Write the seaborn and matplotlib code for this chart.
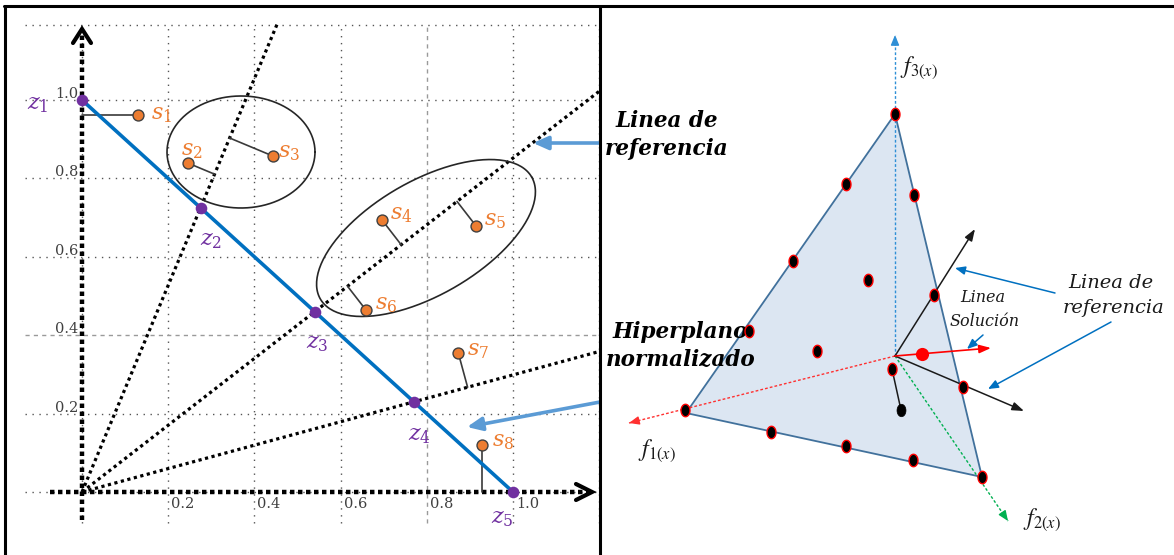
import numpy as np
import pandas as pd
import matplotlib
matplotlib.use("Agg")
import matplotlib.pyplot as plt
import seaborn as sns
from matplotlib.lines import Line2D
from matplotlib.path import Path

sns.set_style("white")
plt.rcParams["mathtext.fontset"] = "stix"
plt.rcParams["font.family"] = ["DejaVu Serif"]

# ---------------- data: left panel ----------------
z_labels = ["$z_1$", "$z_2$", "$z_3$", "$z_4$", "$z_5$"]
z_x = [0.0, 0.275, 0.54, 0.77, 1.0]
z_y = [1.0, 0.725, 0.46, 0.23, 0.0]

s_labels = ["$s_1$", "$s_2$", "$s_3$", "$s_4$", "$s_5$", "$s_6$", "$s_7$", "$s_8$"]
s_x = [0.13, 0.246, 0.443, 0.696, 0.914, 0.659, 0.873, 0.929]
s_y = [0.962, 0.839, 0.857, 0.694, 0.679, 0.464, 0.355, 0.12]
# reference line associated with each s: 'y' axis, z-index of reference line, 'x' axis
s_ref = ["y", 1, 1, 2, 2, 2, 3, "x"]

tick_vals = [0.2, 0.4, 0.6, 0.8, 1.0]
tick_labels = ["0.2", "0.4", "0.6", "0.8", "1.0"]
grid_vals = [0.0, 0.2, 0.4, 0.6, 0.8, 1.0, 1.2]

# ---------------- data: right panel (diagram coordinates) ----------------
tri_x = [895, 686, 982]
tri_y = [114, 413, 477]
ref_pts_x = [895, 846, 793, 749, 685, 914, 934, 963, 982, 771, 846, 913, 868, 817, 892]
ref_pts_y = [114, 184, 261, 331, 410, 195, 295, 387, 477, 432, 446, 460, 280, 351, 369]
sol_x, sol_y = [922], [354]
ind_x, ind_y = [901], [410]
center = (895, 356)
f_axes_tip = {"f3": (895, 35), "f1": (629, 423), "f2": (1008, 521)}
ref_arrow_tips = [(975, 229), (1024, 411)]
sol_arrow_tip = (991, 348)

# ---------------- colours ----------------
PURPLE = "#7030A0"
ORANGE = "#ED7D31"
BLUE = "#0070C0"
LBLUE = "#5B9BD5"

W, H = 1174, 555
fig = plt.figure(figsize=(W / 100, H / 100), dpi=100)

# ================= LEFT PANEL =================
SX, SY, OX, OY = 431.0, 392.0, 82.0, 492.0
def px(xp, yp):
    return ((xp - OX) / SX, (OY - yp) / SY)

ax1 = fig.add_axes([0, 0, 600 / W, 1])
ax1.set_xlim(px(0, 0)[0], px(600, 0)[0])
ax1.set_ylim(px(0, 555)[1], px(0, 0)[1])
ax1.set_axis_off()

# grid
gx0, gx1 = px(25, 0)[0], px(597, 0)[0]
gy0, gy1 = px(0, 523)[1], px(0, 25)[1]
for g in grid_vals:
    ls = (0, (3, 3)) if abs(g - 0.8) < 1e-9 else (0, (1, 4))
    col = "#9a9a9a" if abs(g - 0.8) < 1e-9 else "#555555"
    ax1.plot([g, g], [gy0, min(gy1, 1.191)], color=col, lw=1.0, ls=ls, zorder=1)
for g in grid_vals:
    ls = (0, (3, 3)) if abs(g - 0.4) < 1e-9 else (0, (1, 4))
    col = "#9a9a9a" if abs(g - 0.4) < 1e-9 else "#555555"
    yy = min(g, 1.191)
    ax1.plot([gx0, gx1], [yy, yy], color=col, lw=1.0, ls=ls, zorder=1)

# thick dotted axes
ax1.plot([0, 0], [px(0, 520)[1], px(0, 33)[1]], color="black", lw=3.2, ls=(0, (1, 0.8)), zorder=3)
ax1.plot([px(50, 0)[0], px(588, 0)[0]], [0, 0], color="black", lw=3.2, ls=(0, (1, 0.8)), zorder=3)
# chevrons
cx = [px(73, 43), px(82, 29), px(91, 43)]
ax1.plot([p[0] for p in cx], [p[1] for p in cx], color="black", lw=3, solid_joinstyle="miter", zorder=4)
cy = [px(576, 484), px(592, 492), px(576, 500)]
ax1.plot([p[0] for p in cy], [p[1] for p in cy], color="black", lw=3, solid_joinstyle="miter", zorder=4)

# reference lines through origin and z2, z3, z4
xmax, ymax = 1.2, 1.196
ref_dirs = {}
for k in [1, 2, 3]:
    dx, dy = z_x[k], z_y[k]
    t = min(xmax / dx, ymax / dy)
    ref_dirs[k] = (dx, dy)
    ax1.plot([0, dx * t], [0, dy * t], color="black", lw=2.3, ls=(0, (1, 1.1)), zorder=3)
ref_dirs["y"] = (0.0, 1.0)
ref_dirs["x"] = (1.0, 0.0)

# Pareto (normalized hyperplane) line
df_z = pd.DataFrame({"x": z_x, "y": z_y})
sns.lineplot(data=df_z, x="x", y="y", sort=False, color=BLUE, lw=2.6, ax=ax1, zorder=5)

# perpendiculars from s points to their reference line
for x, y, r in zip(s_x, s_y, s_ref):
    dx, dy = ref_dirs[r]
    p = np.array([x * SX, y * SY])
    d = np.array([dx * SX, dy * SY])
    t = p.dot(d) / d.dot(d)
    fx, fy = t * dx, t * dy
    ax1.plot([x, fx], [y, fy], color="#3a3a3a", lw=1.2, zorder=4)

# ellipses (drawn in pixel-shaped units)
def ellipse(cxp, cyp, a, b, ang):
    th = np.linspace(0, 2 * np.pi, 200)
    r = np.deg2rad(ang)
    ex = a * np.cos(th) * np.cos(r) - b * np.sin(th) * np.sin(r)
    ey = a * np.cos(th) * np.sin(r) + b * np.sin(th) * np.cos(r)
    cxd, cyd = px(cxp, cyp)
    ax1.plot(cxd + ex / SX, cyd + ey / SY, color="#262626", lw=1.2, zorder=4)
ellipse(241, 152, 74, 56, 0)
ellipse(426, 238, 122, 57, 30)

# points
df_s = pd.DataFrame({"x": s_x, "y": s_y})
sns.scatterplot(data=df_s, x="x", y="y", color=ORANGE, edgecolor="#404040", linewidth=1.0,
                s=62, ax=ax1, zorder=6, legend=False)
sns.scatterplot(data=df_z, x="x", y="y", color=PURPLE, edgecolor=PURPLE, linewidth=0,
                s=70, ax=ax1, zorder=7, legend=False)

# labels
z_off = [(-44, -4), (11, -32), (3, -31), (6, -33), (-11, -26)]
for lab, x, y, (ox, oy) in zip(z_labels, z_x, z_y, z_off):
    ax1.annotate(lab, (x, y), xytext=(ox, oy), textcoords="offset pixels", ha="center", va="center",
                 color=PURPLE, fontsize=16, math_fontfamily="dejavuserif", zorder=8)
s_off = [(23, 1), (4, 13), (16, 4), (19, 6), (19, 6), (20, 6), (20, 3), (21, 4)]
for lab, x, y, (ox, oy) in zip(s_labels, s_x, s_y, s_off):
    ax1.annotate(lab, (x, y), xytext=(ox, oy), textcoords="offset pixels", ha="center", va="center",
                 color=ORANGE, fontsize=16, math_fontfamily="dejavuserif", zorder=8)

# tick labels
for v, lab in zip(tick_vals, tick_labels):
    ax1.annotate(lab, (v, 0), xytext=(3, -12), textcoords="offset pixels", ha="left", va="center",
                 color="#404040", fontsize=10.5)
    ax1.annotate(lab, (0, v), xytext=(-4, 6), textcoords="offset pixels", ha="right", va="center",
                 color="#404040", fontsize=10.5)

# blue pointer arrows (towards the right-panel captions)
for (xs, ys), (xe, ye) in [((600, 143), (533, 143)), ((600, 402), (467, 427))]:
    ax1.annotate("", xy=px(xe, ye), xytext=px(xs, ys),
                 arrowprops=dict(arrowstyle="-|>,head_length=0.9,head_width=0.4", color=LBLUE,
                                 lw=2.6, shrinkA=0, shrinkB=0), zorder=6)

# ================= RIGHT PANEL =================
ax2 = fig.add_axes([600 / W, 0, (W - 600) / W, 1])
ax2.set_xlim(600, W)
ax2.set_ylim(H, 0)
ax2.set_axis_off()

ax2.fill(tri_x, tri_y, facecolor="#DCE6F2", edgecolor="#41719C", lw=1.3, zorder=1)

f_cols = {"f3": "#2E8FD6", "f1": "#FF3030", "f2": "#00B050"}
for key, (tx, ty) in f_axes_tip.items():
    col = f_cols[key]
    ax2.plot([center[0], tx], [center[1], ty], color=col, lw=1.0, ls=(0, (2, 1.5)), zorder=2)
    vx, vy = tx - center[0], ty - center[1]
    n = np.hypot(vx, vy)
    ax2.annotate("", xy=(tx, ty), xytext=(tx - vx / n * 10, ty - vy / n * 10),
                 arrowprops=dict(arrowstyle="-|>,head_length=0.6,head_width=0.25", color=col,
                                 lw=1.0, shrinkA=0, shrinkB=0), zorder=3)

for tip in ref_arrow_tips:
    ax2.annotate("", xy=tip, xytext=center,
                 arrowprops=dict(arrowstyle="-|>,head_length=0.7,head_width=0.25", color="#1a1a1a",
                                 lw=1.1, shrinkA=0, shrinkB=0), zorder=3)
ax2.annotate("", xy=sol_arrow_tip, xytext=center,
             arrowprops=dict(arrowstyle="-|>,head_length=0.7,head_width=0.25", color="#FF0000",
                             lw=1.2, shrinkA=0, shrinkB=0), zorder=3)
ax2.plot([ref_pts_x[-1], ind_x[0]], [ref_pts_y[-1], ind_y[0]], color="#1a1a1a", lw=1.1, zorder=3)

th = np.linspace(0, 2 * np.pi, 40)
ell = Path(np.column_stack([0.72 * np.cos(th), np.sin(th)]), closed=True)
df_r = pd.DataFrame({"x": ref_pts_x, "y": ref_pts_y})
sns.scatterplot(data=df_r, x="x", y="y", marker=ell, color="black", edgecolor="#FF0000",
                linewidth=1.0, s=80, ax=ax2, zorder=5, legend=False)
sns.scatterplot(x=ind_x, y=ind_y, marker=ell, color="black", edgecolor="black",
                linewidth=0.5, s=80, ax=ax2, zorder=5, legend=False)
sns.scatterplot(x=sol_x, y=sol_y, marker="o", color="#FF0000", edgecolor="#FF0000",
                linewidth=0, s=90, ax=ax2, zorder=5, legend=False)
ax2.set_xlim(600, W)
ax2.set_ylim(H, 0)

# thin blue annotation arrows
for (xs, ys), (xe, ye) in [((1055, 293), (955, 268)), ((1111, 322), (988, 389)), ((983, 335), (967, 349))]:
    ax2.annotate("", xy=(xe, ye), xytext=(xs, ys),
                 arrowprops=dict(arrowstyle="-|>,head_length=0.6,head_width=0.25", color=BLUE,
                                 lw=1.1, shrinkA=0, shrinkB=0), zorder=4)

# axis labels
ax2.text(919, 68, "$f_{3(x)}$", fontsize=17, ha="center", va="center", color="#1a1a1a")
ax2.text(657, 451, "$f_{1(x)}$", fontsize=17, ha="center", va="center", color="#1a1a1a")
ax2.text(1042, 520, "$f_{2(x)}$", fontsize=17, ha="center", va="center", color="#1a1a1a")

# captions
bi = dict(fontsize=15.5, fontweight="bold", fontstyle="italic", ha="center", va="center", color="black")
ax2.text(667, 121, "Linea de", **bi)
ax2.text(667, 149, "referencia", **bi)
ax2.text(680, 332, "Hiperplano", **bi)
ax2.text(681, 359, "normalizado", **bi)
it = dict(fontsize=14, fontstyle="italic", ha="center", va="center", color="#1a1a1a")
ax2.text(1111, 283, "Linea de", **it)
ax2.text(1113, 308, "referencia", **it)
sm = dict(fontsize=11.5, fontstyle="italic", ha="center", va="center", color="#1a1a1a")
ax2.text(983, 298, "Linea", **sm)
ax2.text(985, 321, "Solución", **sm)

# frame lines
fl = dict(color="black", lw=2.2, transform=fig.transFigure)
fig.add_artist(Line2D([4 / W, 1], [1 - 6 / H, 1 - 6 / H], **fl))
fig.add_artist(Line2D([5 / W, 5 / W], [0, 1 - 6 / H], **fl))
fig.add_artist(Line2D([600 / W, 600 / W], [0, 1 - 6 / H], **fl))

fig.savefig("out.png", dpi=100)
